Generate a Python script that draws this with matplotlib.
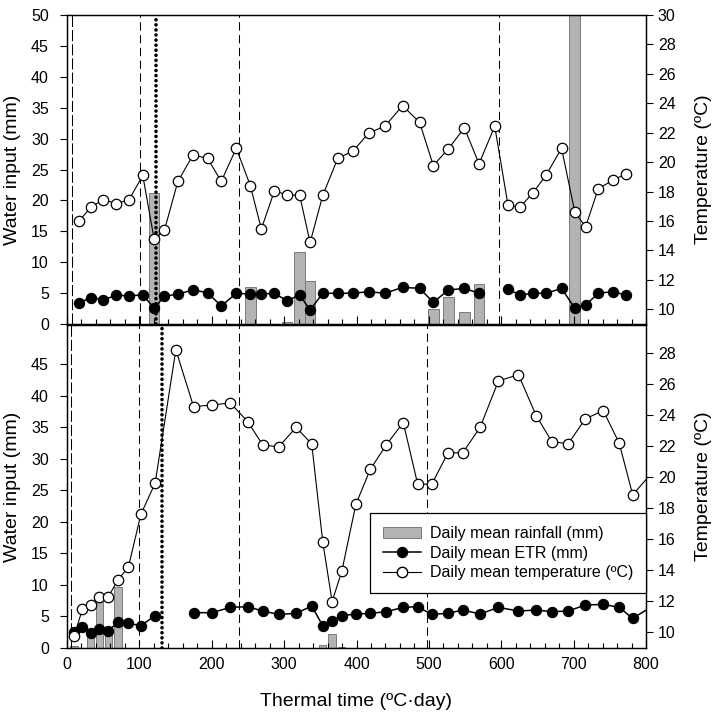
import numpy as np
import matplotlib
matplotlib.use("Agg")
import matplotlib.pyplot as plt
from matplotlib.patches import Patch
from matplotlib.lines import Line2D
from matplotlib.ticker import MultipleLocator

plt.rcParams['font.family'] = ['Liberation Sans', 'DejaVu Sans']
plt.rcParams['lines.scale_dashes'] = False

# ---------------- data ----------------
# Top panel
top_x = [16.6, 33.7, 50.3, 68.3, 85.8, 104.7, 120.4, 134.7, 153.2, 174.0, 194.2, 213.1,
         233.9, 253.3, 268.5, 286.5, 304.0, 321.5, 335.9, 353.4, 374.2, 395.0, 417.0, 439.2,
         463.7, 487.2, 506.1, 526.9, 549.0, 569.3, 591.0, 609.4, 626.0, 643.6, 662.5, 683.3,
         701.7, 716.5, 734.0, 753.8, 772.3]
top_temp = [16.0, 16.97, 17.45, 17.18, 17.45, 19.1, 14.76, 15.39, 18.69, 20.47, 20.27, 18.69,
            20.95, 18.4, 15.46, 18.03, 17.79, 17.74, 14.54, 17.74, 20.27, 20.74, 21.99, 22.44,
            23.84, 22.7, 19.77, 20.9, 22.33, 19.89, 22.44, 17.06, 16.95, 17.9, 19.16, 20.95,
            16.6, 15.6, 18.19, 18.76, 19.2]
top_etr = [3.45, 4.26, 3.93, 4.64, 4.58, 4.69, 2.59, 4.48, 4.85, 5.5, 5.07, 2.91,
           4.97, 4.85, 4.85, 4.97, 3.77, 4.69, 2.27, 4.97, 4.97, 4.97, 5.23, 4.97,
           5.93, 5.77, 3.5, 5.5, 5.77, 4.97, np.nan, 5.61, 4.69, 4.97, 4.97, 5.77,
           2.54, 3.07, 4.97, 5.23, 4.69]
top_rain_x = [120.4, 253.3, 304.0, 321.5, 335.9, 506.1, 526.9, 549.0, 569.3, 701.7]
top_rain = [21.2, 6.0, 0.3, 11.7, 7.0, 2.5, 4.4, 1.9, 6.4, 50.0]
top_dashed = [7.3, 101, 238, 597]
top_dotted = 123

# Bottom panel
bot_x = [9.7, 21.2, 32.8, 44.7, 57.2, 70.6, 84.9, 102.0, 121.8, 150.4, 174.9, 200.3,
         225.6, 249.6, 270.4, 292.5, 316.5, 338.1, 353.4, 366.3, 379.7, 399.1, 419.0, 441.1,
         464.6, 484.4, 503.8, 526.4, 546.7, 570.7, 596.1, 623.8, 648.2, 669.9, 692.5, 716.0,
         740.9, 763.0, 781.6, 820.0]
bot_temp = [9.76, 11.48, 11.75, 12.27, 12.31, 13.4, 14.22, 17.6, 19.62, 28.2, 24.54, 24.65,
            24.78, 23.58, 22.08, 21.95, 23.2, 22.15, 15.83, 11.99, 13.94, 18.25, 20.5, 22.08,
            23.52, 19.58, 19.53, 21.57, 21.57, 23.2, 26.2, 26.6, 23.97, 22.29, 22.15, 23.75,
            24.29, 22.19, 18.87, 20.9]
bot_etr = [2.58, 3.27, 2.43, 2.96, 2.69, 4.17, 3.91, 3.54, 5.12, np.nan, 5.6, 5.6,
           6.44, 6.55, 5.86, 5.33, 5.49, 6.65, 3.54, 4.28, 5.12, 5.39, 5.49, 5.76,
           6.44, 6.55, 5.33, 5.49, 6.02, 5.39, 6.44, 5.86, 6.02, 5.76, 5.86, 6.81,
           6.92, 6.44, 4.7, 7.4]
bot_rain_x = [9.7, 32.8, 44.7, 57.2, 70.6, 353.4, 366.3, 379.7]
bot_rain = [0.3, 2.5, 7.3, 2.3, 9.6, 0.5, 2.2, 0.2]
bot_dashed = [5.5, 100, 238, 497]
bot_dotted = 131

legend_labels = ['Daily mean rainfall (mm)', 'Daily mean ETR (mm)',
                 'Daily mean temperature (\u00baC)']

# ---------------- style ----------------
W, H = 717, 713
fig = plt.figure(figsize=(W / 100, H / 100), dpi=100)
L = 67 / W
AW = 579 / W
ax_top = fig.add_axes([L, 1 - 324 / H, AW, 309 / H])
ax_bot = fig.add_axes([L, 1 - 648 / H, AW, 323 / H])

BAR_FC = '#b3b3b3'
BAR_EC = '#7a7a7a'
FS_TICK = 11.5
FS_LAB = 14


def panel(ax, x, temp, etr, rx, rain, bw, dashed, dotted, wlim, tlim, wticks, tticks):
    ax.set_xlim(0, 800)
    ax.set_ylim(*wlim)
    ax.bar(rx, rain, width=bw, color=BAR_FC, edgecolor=BAR_EC, linewidth=0.7, zorder=1)
    for i, d in enumerate(dashed):
        ls = (0, (8, 2.2)) if i == 0 else (0, (6, 3.2))
        ax.axvline(d, color='black', lw=0.75, linestyle=ls, zorder=1.5)
    ax.axvline(dotted, color='black', lw=2.6, linestyle=(0, (0.05, 3.6)),
               dash_capstyle='round', zorder=1.6)
    ax.plot(x, etr, color='black', lw=1.1, marker='o', ms=7.2, mfc='black', mec='black',
            zorder=3)
    ax.set_yticks(wticks)
    ax.xaxis.set_major_locator(MultipleLocator(100))
    ax.xaxis.set_minor_locator(MultipleLocator(20))
    ax.tick_params(axis='x', which='major', direction='in', length=5.5, width=0.8,
                   labelsize=FS_TICK, pad=6.5, top=False)
    ax.tick_params(axis='x', which='minor', direction='in', length=3.5, width=0.8, top=False)
    ax.tick_params(axis='y', direction='out', length=5, width=0.8, labelsize=FS_TICK, pad=8)
    for s in ax.spines.values():
        s.set_linewidth(0.9)

    tx = ax.twinx()
    tx.set_ylim(*tlim)
    tx.plot(x, temp, color='black', lw=0.8, marker='o', ms=7.5, mfc='white', mec='black',
            mew=0.9, zorder=3)
    tx.set_yticks(tticks)
    tx.tick_params(axis='y', direction='out', length=5, width=0.8, labelsize=FS_TICK, pad=3.5)
    for s in tx.spines.values():
        s.set_linewidth(0.9)
    tx.set_ylabel('Temperature (\u00baC)', fontsize=FS_LAB)
    tx.yaxis.set_label_coords(1.084, 0.5)
    ax.set_ylabel('Water input (mm)', fontsize=FS_LAB)
    ax.yaxis.set_label_coords(-0.079, 0.5)
    return tx


panel(ax_top, top_x, top_temp, top_etr, top_rain_x, top_rain, 14.8, top_dashed, top_dotted,
      (0, 50), (9, 30), np.arange(0, 51, 5), np.arange(10, 31, 2))
ax_top.tick_params(axis='x', labelbottom=False)

tx_bot = panel(ax_bot, bot_x, bot_temp, bot_etr, bot_rain_x, bot_rain, 10.1, bot_dashed,
               bot_dotted, (0, 51.2), (9.0, 29.8), np.arange(0, 46, 5), np.arange(10, 29, 2))
ax_bot.set_xlabel('Thermal time (\u00baC\u00b7day)', fontsize=FS_LAB)
ax_bot.xaxis.set_label_coords(0.5, -0.138)

handles = [Patch(facecolor=BAR_FC, edgecolor=BAR_EC, linewidth=0.7),
           Line2D([], [], color='black', lw=1.1, marker='o', ms=7.2, mfc='black', mec='black'),
           Line2D([], [], color='black', lw=0.8, marker='o', ms=7.5, mfc='white', mec='black')]
leg = tx_bot.legend(handles, legend_labels, loc='lower right', bbox_to_anchor=(1.0, 0.170),
                    borderaxespad=0, fontsize=FS_TICK, frameon=True, fancybox=False,
                    framealpha=1, edgecolor='black', handlelength=2.4, handletextpad=0.55,
                    labelspacing=0.3, borderpad=0.8)
leg.get_frame().set_linewidth(0.9)
leg.set_zorder(10)

fig.savefig('out.png', dpi=100)
